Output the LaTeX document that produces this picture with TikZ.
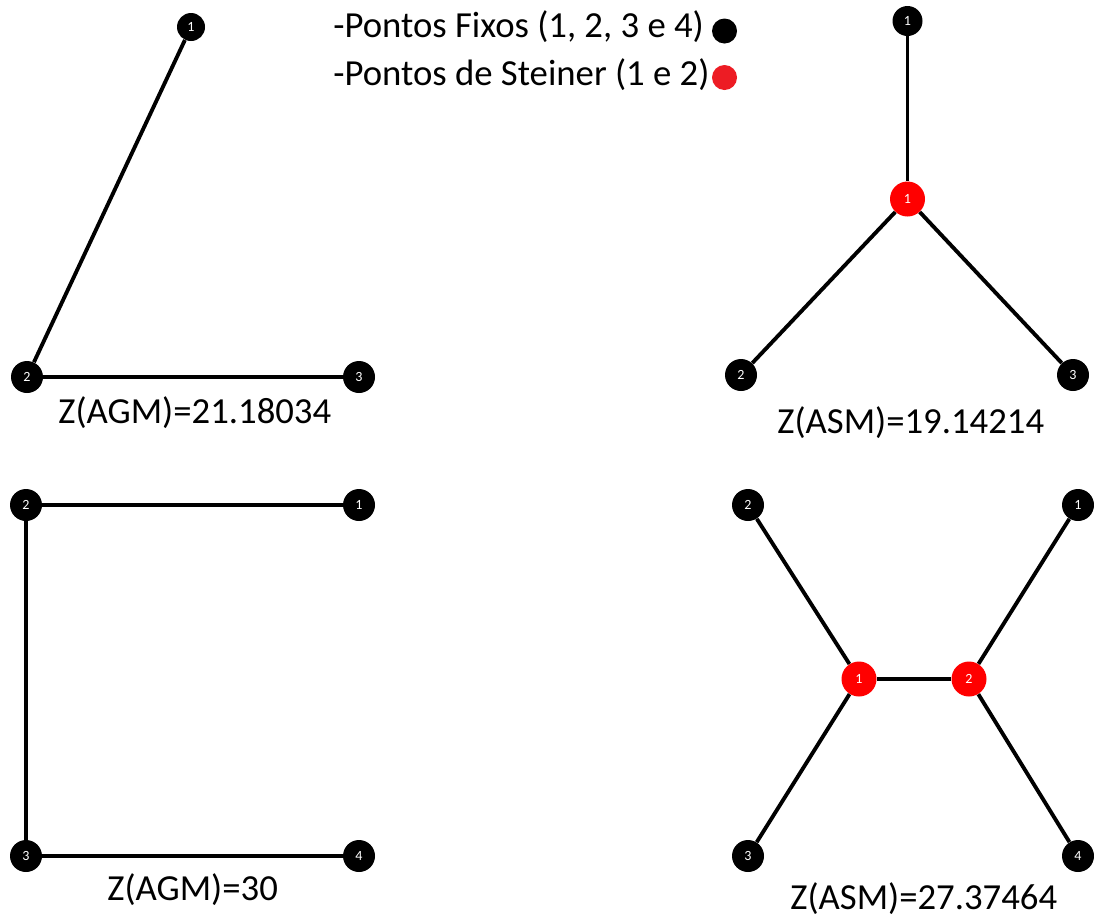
\documentclass[tikz,border=0pt]{standalone}
\usepackage{fontspec}
\setmainfont{Carlito}
\begin{document}
\begin{tikzpicture}[x=0.02cm,y=-0.02cm,
  fixed/.style={circle,fill=black,inner sep=0pt,minimum size=32*0.02cm,text=white,font=\fontsize{8}{9}\selectfont},
  steiner/.style={circle,fill=red,inner sep=0pt,minimum size=35*0.02cm,text=white,font=\fontsize{8}{9}\selectfont},
  edge/.style={line width=2.2pt,black},
  lbl/.style={anchor=base west,inner sep=0pt,font=\fontsize{20.9}{24}\selectfont},
  legdot/.style={circle,inner sep=0pt,minimum size=25*0.02cm}]
\useasboundingbox (0,0) rectangle (1094,917);
\definecolor{legred}{RGB}{237,28,36}
% top-left
\node[fixed,minimum size=28*0.02cm] (a1) at (191,27) {1};
\node[fixed] (a2) at (27,377) {2};
\node[fixed] (a3) at (359,377) {3};
\draw[edge] (a1) -- (a2);
\draw[edge] (a2) -- (a3);
\node[lbl] (za) at (58,423) {Z(AGM)=21.18034};
% top-right
\node[fixed,minimum size=30*0.02cm] (b1) at (907.5,21) {1};
\node[steiner] (bs) at (907.5,199) {1};
\node[fixed] (b2) at (741,375) {2};
\node[fixed] (b3) at (1073,375) {3};
\draw[edge] (b1) -- (bs);
\draw[edge] (bs) -- (b2);
\draw[edge] (bs) -- (b3);
\node[lbl] (zb) at (777,433) {Z(ASM)=19.14214};
% bottom-left
\node[fixed] (c2) at (26,505) {2};
\node[fixed] (c1) at (359,505) {1};
\node[fixed] (c3) at (26,856) {3};
\node[fixed] (c4) at (359,856) {4};
\draw[edge] (c2) -- (c1);
\draw[edge] (c2) -- (c3);
\draw[edge] (c3) -- (c4);
\node[lbl] (zc) at (107,900) {Z(AGM)=30};
% bottom-right
\node[fixed] (d2) at (748,505) {2};
\node[fixed] (d1) at (1078,505) {1};
\node[steiner] (ds1) at (859,679) {1};
\node[steiner] (ds2) at (969,679) {2};
\node[fixed] (d3) at (748,856) {3};
\node[fixed] (d4) at (1078,856) {4};
\draw[edge] (d2) -- (ds1);
\draw[edge] (d3) -- (ds1);
\draw[edge] (ds1) -- (ds2);
\draw[edge] (ds2) -- (d1);
\draw[edge] (ds2) -- (d4);
\node[lbl] (zd) at (790,909) {Z(ASM)=27.37464};
% legend
\node[lbl] (l1) at (333,37) {-Pontos Fixos (1, 2, 3 e 4)};
\node[legdot,fill=black] (ld1) at (724.5,31) {};
\node[lbl] (l2) at (333,85) {-Pontos de Steiner (1 e 2)};
\node[legdot,fill=legred] (ld2) at (724.5,77.5) {};
\end{tikzpicture}
\end{document}
